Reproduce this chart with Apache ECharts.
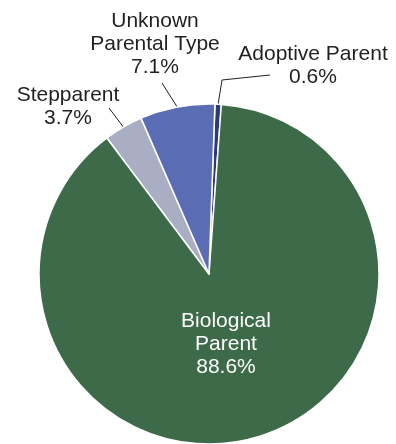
<!DOCTYPE html>
<html>
<head>
<meta charset="utf-8">
<style>
  html, body { margin: 0; padding: 0; background: #ffffff; }
  #chart { width: 396px; height: 444px; }
</style>
<script src="https://cdn.jsdelivr.net/npm/echarts@6/dist/echarts.min.js"></script>
</head>
<body>
<div id="chart"></div>
<script>
// Share of children by parental relationship type (percent)
const categories = ['Adoptive Parent', 'Biological Parent', 'Stepparent', 'Unknown Parental Type'];
const labelNames = ['Adoptive Parent', 'Biological\nParent', 'Stepparent', 'Unknown\nParental Type'];
const shares = [0.6, 88.6, 3.7, 7.1];
const colors = ['#2e3a78', '#3d6a48', '#aaaec4', '#5a6db4'];

// Centre of each label block
const labelSpots = [
  { x: 313, y: 66 },
  { x: 226, y: 344 },
  { x: 68, y: 107 },
  { x: 155, y: 44 }
];
// Bend and end points of the leader lines (null = no leader)
const leaderBends = [
  [[222, 80], [270, 75]],
  null,
  [[109, 108], [109, 108]],
  [[162, 83], [162, 83]]
];

const chart = echarts.init(document.getElementById('chart'));

const data = categories.map((name, i) => ({
  name: name,
  value: shares[i],
  itemStyle: { color: colors[i] },
  label: i === 1
    ? { position: 'inside', color: '#ffffff' }
    : { position: 'outside', color: '#231f20' },
  labelLine: { show: i !== 1 }
}));

chart.setOption({
  animation: false,
  series: [{
    type: 'pie',
    center: [209, 274],
    radius: [0, 170],
    startAngle: 88,
    clockwise: true,
    avoidLabelOverlap: false,
    data: data,
    itemStyle: { borderColor: '#ffffff', borderWidth: 1.5 },
    label: {
      show: true,
      fontFamily: 'Liberation Sans, Arial, sans-serif',
      fontSize: 21,
      lineHeight: 23,
      align: 'center',
      formatter: p => labelNames[p.dataIndex] + '\n' + p.value.toFixed(1) + '%'
    },
    labelLine: {
      show: true,
      length: 20,
      length2: 10,
      lineStyle: { color: '#231f20', width: 1 }
    },
    labelLayout: params => {
      const i = params.dataIndex;
      const out = {
        x: labelSpots[i].x,
        y: labelSpots[i].y,
        align: 'center',
        verticalAlign: 'middle'
      };
      const bends = leaderBends[i];
      if (bends && params.labelLinePoints) {
        out.labelLinePoints = [params.labelLinePoints[0], bends[0], bends[1]];
      }
      return out;
    }
  }]
});
</script>
</body>
</html>
